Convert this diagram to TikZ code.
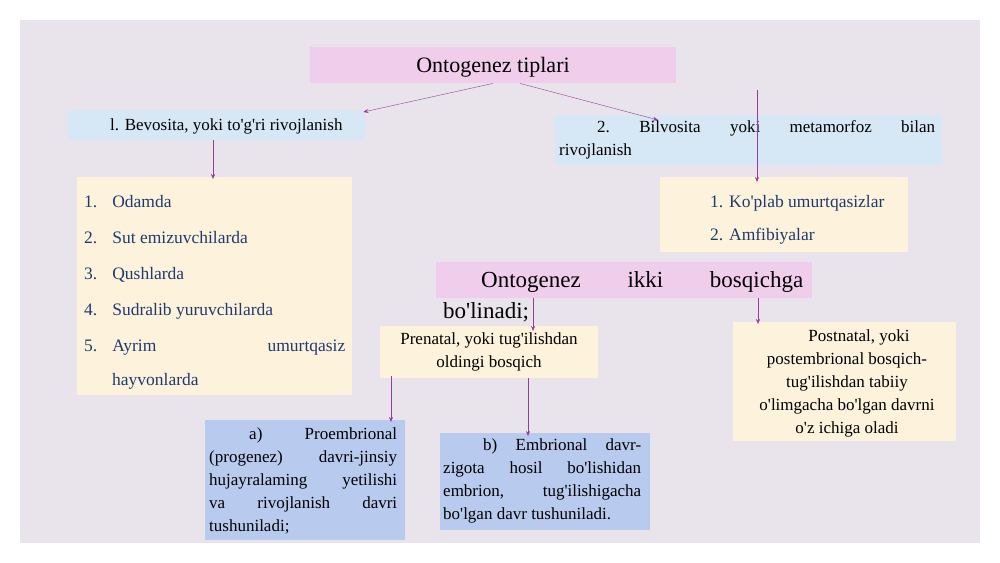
\documentclass[tikz,border=0pt]{standalone}
\usepackage{fontspec}
\setmainfont{Liberation Serif}
\usetikzlibrary{positioning,arrows.meta}
\definecolor{slidebg}{HTML}{E9E4EC}
\definecolor{pinkbox}{HTML}{F0CDEB}
\definecolor{skybox}{HTML}{D6E7F5}
\definecolor{creambox}{HTML}{FDF3DC}
\definecolor{bluebox}{HTML}{B8CAEE}
\definecolor{listblue}{HTML}{1F3A6E}
\definecolor{arrowpurple}{HTML}{9B3A9B}
\newcommand{\q}{\textquotesingle}
\newcommand{\spread}[2]{\hbox to #1{#2}}
\tikzset{box/.style={inner sep=0pt, anchor=north west}}
\tikzset{pink box/.style={box, fill=pinkbox, minimum height=36pt}}
\tikzset{sky box/.style={box, fill=skybox}}
\tikzset{cream box/.style={box, fill=creambox}}
\tikzset{blue box/.style={box, fill=bluebox}}
\tikzset{body text/.style={inner sep=0pt, font=\fontsize{17}{23}\selectfont}}
\tikzset{link/.style={draw=arrowpurple, -{Stealth[length=5pt,width=4pt]}}}
\begin{document}
\begin{tikzpicture}[x=1pt, y=-1pt]
  \useasboundingbox (0,0) rectangle (1000,562);
  \fill [slidebg] (20,20) rectangle (980,543);

  % top level
  \node [pink box, minimum width=366pt] (tip) at (310,47) {};
  \node [inner sep=0pt] at (493,67) {\fontsize{22}{26}\selectfont Ontogenez tiplari};

  \node [sky box, minimum width=297pt, minimum height=30pt] (bev) at (68,110) {};
  \node [body text, anchor=west] at (110,126) {l. Bevosita, yoki to\q g\q ri rivojlanish};

  \node [sky box, minimum width=387pt, minimum height=50pt] (bil) at (555,115) {};
  \node [body text, anchor=north west, align=left] at (559,120)
        {\spread{376pt}{\hspace*{38pt}2.\hfill Bilvosita\hfill yoki\hfill metamorfoz\hfill bilan}\\ rivojlanish};

  % lists
  \node [cream box, minimum width=275pt, minimum height=218pt] (odam) at (77,177) {};
  \node [anchor=north west, inner sep=0pt, align=left, text=listblue,
         font=\fontsize{17.5}{36}\selectfont] at (84,195)
        {1.\hspace{15pt}Odamda\\
         2.\hspace{15pt}Sut emizuvchilarda\\
         3.\hspace{15pt}Qushlarda\\
         4.\hspace{15pt}Sudralib yuruvchilarda\\
         5.\hspace{15pt}\spread{233pt}{Ayrim\hfill umurtqasiz}\\[-2pt]
         \hspace*{28pt}hayvonlarda};

  \node [cream box, minimum width=248pt, minimum height=75pt] (kop) at (660,177) {};
  \node [anchor=north west, inner sep=0pt, align=left, text=listblue,
         font=\fontsize{17.5}{33}\selectfont] at (710,195)
        {1. Ko\q plab umurtqasizlar\\ 2. Amfibiyalar};

  % stages
  \node [pink box, minimum width=376pt] (ikki) at (436,262) {};
  \node [anchor=west, inner sep=0pt] at (481,282)
        {\fontsize{23}{26}\selectfont\spread{322pt}{Ontogenez\hfill ikki\hfill bosqichga}};
  \node [anchor=west, inner sep=0pt] (bol) at (443,312) {\fontsize{23}{26}\selectfont bo\q linadi;};

  \node [cream box, minimum width=218pt, minimum height=52pt] (pre) at (380,326) {};
  \node [body text, align=center] at (489,352)
        {Prenatal, yoki tug\q ilishdan\\ oldingi bosqich};

  \node [cream box, minimum width=223pt, minimum height=119pt] (post) at (733,322) {};
  \node [body text, align=center] at (847,383)
        {\hspace*{24pt}Postnatal, yoki\\ postembrional bosqich-\\ tug\q ilishdan tabiiy\\
         o\q limgacha bo\q lgan davrni\\ o\q z ichiga oladi};

  \node [blue box, minimum width=200pt, minimum height=120pt] (pro) at (205,420) {};
  \node [body text, anchor=north west, align=left] at (209,427)
        {\spread{188pt}{\hspace*{40pt}a)\hfill Proembrional}\\
         \spread{188pt}{(progenez)\hfill davri-jinsiy}\\
         \spread{188pt}{hujayralaming\hfill yetilishi}\\
         \spread{188pt}{va\hfill rivojlanish\hfill davri}\\
         tushuniladi;};

  \node [blue box, minimum width=210pt, minimum height=97pt] (emb) at (440,433) {};
  \node [body text, anchor=north west, align=left] at (443,438)
        {\spread{198pt}{\hspace*{40pt}b)\hfill Embrional\hfill davr-}\\
         \spread{198pt}{zigota\hfill hosil\hfill bo\q lishidan}\\
         \spread{198pt}{embrion,\hfill tug\q ilishigacha}\\
         bo\q lgan davr tushuniladi.};

  % links
  \draw [link] ([xshift=183pt]tip.south west) -- ([xshift=-2pt,yshift=-2pt]bev.north east);
  \draw [link] ([xshift=210pt]tip.south west) -- ([xshift=103pt,yshift=-5pt]bil.north west);
  \draw [link] ([xshift=145pt]bev.south west) -- ([xshift=136pt,yshift=-2pt]odam.north west);
  \draw [link] ([xshift=202pt,yshift=25pt]bil.north west) -- ([xshift=97pt,yshift=-5pt]kop.north west);
  \draw [link] ([xshift=97pt]ikki.south west) -- ([xshift=153pt,yshift=-5pt]pre.north west);
  \draw [link] ([xshift=322pt]ikki.south west) -- ([xshift=25pt,yshift=-2pt]post.north west);
  \draw [link] ([xshift=11pt,yshift=2pt]pre.south west) -- ([xshift=186pt,yshift=-2pt]pro.north west);
  \draw [link] ([xshift=148pt]pre.south west) -- ([xshift=88pt,yshift=-3pt]emb.north west);
\end{tikzpicture}
\end{document}
